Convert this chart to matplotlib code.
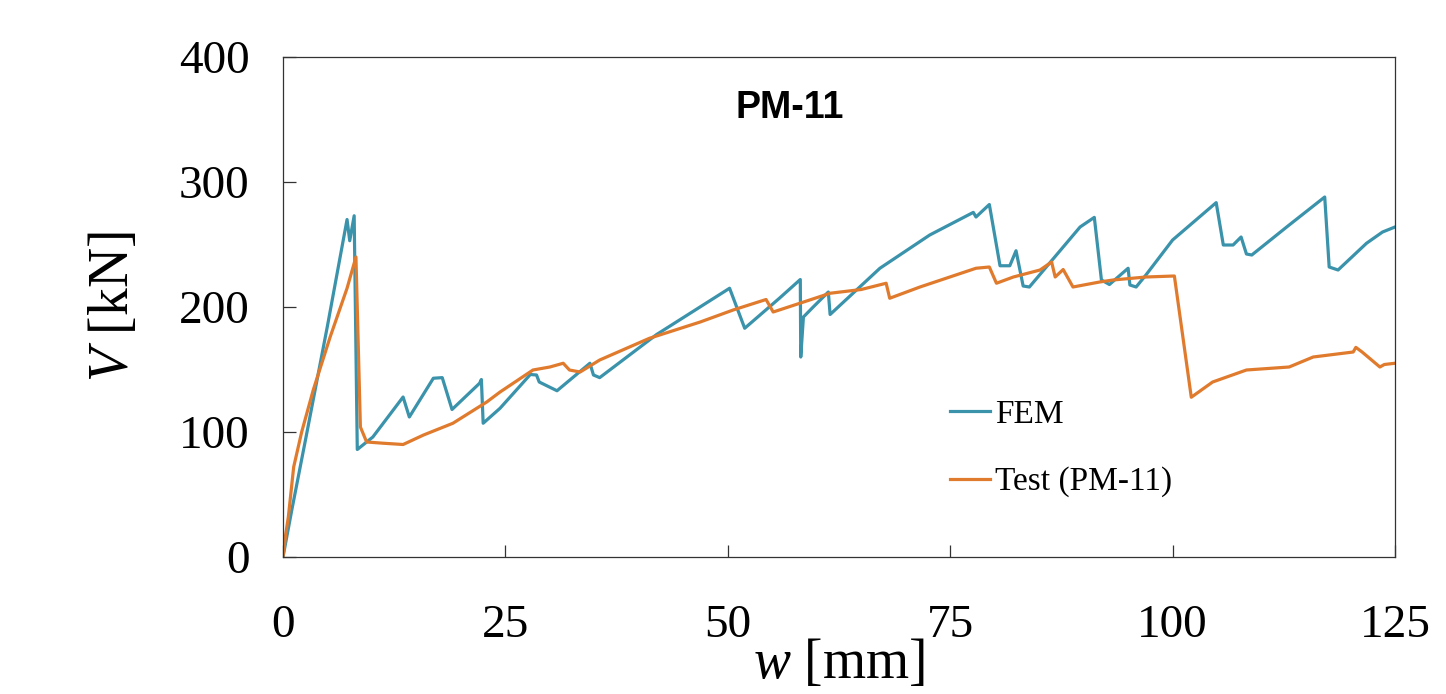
import numpy as np
import matplotlib
matplotlib.use('Agg')
import matplotlib.pyplot as plt

# FEM curve (w [mm], V [kN])
fem_w = [0.0, 1.0, 2.7, 5.0, 7.2, 7.5, 8.0, 8.35, 10.1, 13.5, 14.2, 16.9, 17.9, 19.0,
         22.1, 22.3, 22.5, 24.4, 27.8, 28.5, 28.8, 30.8, 34.5, 34.9, 35.6, 42.0, 50.2,
         51.9, 55.8, 58.15, 58.2, 58.5, 59.6, 61.3, 61.5, 67.1, 72.7, 77.6, 77.9, 79.4,
         80.6, 81.7, 82.4, 83.2, 83.9, 89.6, 91.2, 92.0, 92.9, 95.0, 95.2, 95.9, 97.0,
         100.0, 104.9, 105.7, 106.8, 107.7, 108.3, 108.9, 113.0, 117.1, 117.6, 118.6,
         121.8, 123.6, 125.0]
fem_v = [0, 38, 100, 185, 270, 253, 273, 86, 96, 128, 112, 143, 143.5, 118,
         139, 142, 107, 119, 146, 145.6, 140, 133, 155, 145.6, 143.5, 178, 215,
         183, 207, 222, 160, 192, 200, 212, 194, 231, 257.6, 275.7, 272, 282,
         233, 233, 245, 216.8, 216, 264, 271.7, 221.6, 218, 231, 217.6, 216, 225.6,
         253.6, 283.5, 249.6, 249.6, 256, 242.4, 241.6, 265, 288, 232, 229.6,
         251, 260, 264]

# Test (PM-11) curve
test_w = [0.0, 0.3, 0.6, 1.2, 2.1, 3.4, 5.3, 7.2, 8.2, 8.7, 9.4, 11.3, 13.5, 15.8,
          19.1, 22.9, 24.4, 28.1, 30.0, 31.5, 32.2, 33.4, 35.6, 41.2, 46.9, 50.6,
          54.3, 55.1, 58.1, 61.5, 65.0, 67.8, 68.2, 71.6, 77.9, 79.4, 80.2, 82.1,
          85.1, 86.4, 86.8, 87.7, 88.8, 91.8, 93.3, 97.0, 100.2, 102.1, 104.5,
          108.3, 113.1, 115.8, 120.3, 120.6, 121.3, 123.3, 123.8, 125.0]
test_v = [0, 18, 32, 72, 100, 133.6, 176, 215, 240, 104, 92, 91, 90, 97.6,
          107, 124, 132, 149.6, 152, 155, 149.6, 148, 157.6, 175, 188, 197.6,
          206, 196, 203, 211, 214, 219, 207, 216, 231, 232, 219, 224,
          229.6, 236, 224, 230, 216, 220, 221.6, 224, 224.8, 127.8, 140,
          149.6, 152, 160, 164, 167.7, 164, 152, 154, 155]

x_ticks = [0, 25, 50, 75, 100, 125]
y_ticks = [0, 100, 200, 300, 400]

plt.rcParams['mathtext.fontset'] = 'custom'
plt.rcParams['mathtext.rm'] = 'Liberation Serif'
plt.rcParams['mathtext.it'] = 'Liberation Serif:italic'
serif = 'Liberation Serif'

fig = plt.figure(figsize=(14.46, 6.94), dpi=100)
ax = fig.add_axes([283 / 1446, 1 - 557 / 694, 1112 / 1446, 500 / 694])

ax.plot(fem_w, fem_v, color='#3a93ab', lw=2.3, label='FEM')
ax.plot(test_w, test_v, color='#e07b2e', lw=2.3, label='Test (PM-11)')

ax.set_xlim(0, 125)
ax.set_ylim(0, 400)
ax.set_xticks(x_ticks)
ax.set_yticks(y_ticks)
ax.tick_params(direction='in', length=9, width=0.9, color='#333333')
ax.tick_params(axis='x', pad=34)
ax.tick_params(axis='y', pad=24)
for lab in ax.get_xticklabels() + ax.get_yticklabels():
    lab.set_fontfamily(serif)
    lab.set_fontsize(34)
for s in ax.spines.values():
    s.set_linewidth(0.9)
    s.set_color('#333333')

ax.set_xlabel(r'$w$ [mm]', fontsize=40, family=serif, labelpad=-6)
ax.set_ylabel(r'$V$ [kN]', fontsize=40, family=serif, labelpad=28)

ax.text(0.456, 0.898, 'PM-11', transform=ax.transAxes, ha='center', va='center',
        fontsize=27, fontweight='bold', family='Liberation Sans')

ax.legend(loc='upper left', bbox_to_anchor=(0.6, 0.315), frameon=False,
          prop={'family': serif, 'size': 24}, handlelength=1.2,
          handletextpad=0.15, labelspacing=1.1, borderpad=0, borderaxespad=0)

fig.savefig('out.png', dpi=100)
